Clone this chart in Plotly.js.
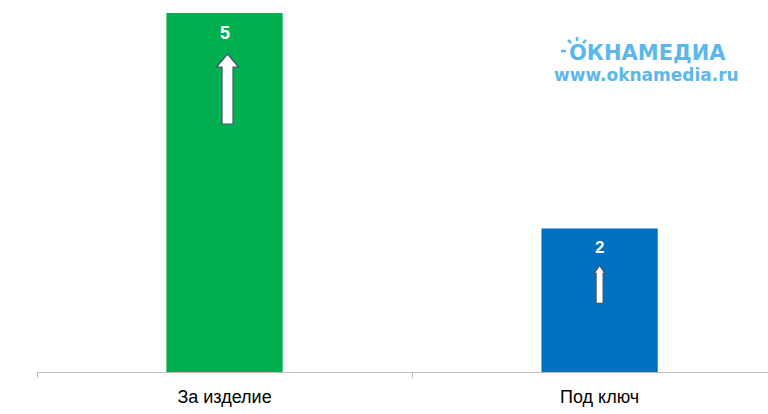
<!DOCTYPE html>
<html>
<head>
<meta charset="utf-8">
<script src="https://cdn.plot.ly/plotly-3.0.1.min.js"></script>
<style>
  html, body { margin: 0; padding: 0; background: #ffffff; }
  #chart { width: 768px; height: 414px; }
</style>
</head>
<body>
<div id="chart"></div>
<script>
// Categories and values
const categories = ["За изделие", "Под ключ"];
const values = [5, 2];
const barColors = ["#00B050", "#0070C0"];

const FONT = "Arial, 'Liberation Sans', sans-serif";
const LOGO_FONT = "'DejaVu Sans', Verdana, sans-serif";
const LOGO_COLOR = "#5CB8EB";

// Plot area in pixels (used to place the logo decorations)
const M = { l: 37, r: 0, t: 13, b: 42 };
const W = 768, H = 414;
const px2x = p => (p - M.l) / (W - M.l - M.r);
const px2y = p => (H - M.b - p) / (H - M.t - M.b);

// Up-arrow outline in pixels relative to the bar top (y positive upward)
function arrowPath(dx, tipOff, headOff, bottomOff, headHalf, shaftHalf) {
  const l = dx - shaftHalf, r = dx + shaftHalf;
  return "M " + dx + " " + (-tipOff) +
         " L " + (dx + headHalf) + " " + (-headOff) +
         " L " + r + " " + (-headOff) +
         " L " + r + " " + (-bottomOff) +
         " L " + l + " " + (-bottomOff) +
         " L " + l + " " + (-headOff) +
         " L " + (dx - headHalf) + " " + (-headOff) + " Z";
}
const arrowGeom = [
  { dx: 3, tip: 41, head: 54, bottom: 111, headHalf: 11, shaftHalf: 5.5 },
  { dx: 0, tip: 37, head: 45, bottom: 75, headHalf: 5.5, shaftHalf: 3.5 }
];
// Value label size and offset below the bar top
const labelSize = [18, 17];
const labelShift = [-20, -19];

const trace = {
  type: "bar",
  x: categories,
  y: values,
  width: 0.31,
  marker: { color: barColors, line: { width: 0 } },
  hoverinfo: "skip"
};

const shapes = categories.map((c, i) => {
  const g = arrowGeom[i];
  return {
    type: "path",
    xref: "x", yref: "y",
    xsizemode: "pixel", ysizemode: "pixel",
    xanchor: i, yanchor: values[i],
    path: arrowPath(g.dx, g.tip, g.head, g.bottom, g.headHalf, g.shaftHalf),
    fillcolor: "#ffffff",
    line: { color: "#44546A", width: 1.2 },
    layer: "above"
  };
});

// Sun rays around the first letter of the logo
const rays = [
  [561, 51, 566, 51],
  [577, 37, 577, 41],
  [568, 40, 571, 43],
  [586, 40, 583, 43]
];
rays.forEach(r => shapes.push({
  type: "line", xref: "paper", yref: "paper",
  x0: px2x(r[0]), y0: px2y(r[1]), x1: px2x(r[2]), y1: px2y(r[3]),
  line: { color: LOGO_COLOR, width: 2.5 }
}));

const annotations = categories.map((c, i) => ({
  x: c, y: values[i], xref: "x", yref: "y",
  text: "<b>" + values[i] + "</b>",
  showarrow: false,
  yanchor: "middle",
  yshift: labelShift[i],
  font: { family: FONT, size: labelSize[i], color: "#ffffff" }
}));

// Site logo, top right
annotations.push({
  xref: "paper", yref: "paper", x: px2x(567), y: px2y(53),
  xanchor: "left", yanchor: "middle",
  text: "<b>ОКНАМЕДИА</b>", showarrow: false,
  font: { family: LOGO_FONT, size: 21, color: LOGO_COLOR }
});
annotations.push({
  xref: "paper", yref: "paper", x: px2x(646), y: px2y(75),
  xanchor: "center", yanchor: "middle",
  text: "<b>www.oknamedia.ru</b>", showarrow: false,
  font: { family: LOGO_FONT, size: 17, color: LOGO_COLOR }
});

const layout = {
  width: W, height: H,
  margin: { l: M.l, r: M.r, t: M.t, b: M.b, pad: 0 },
  paper_bgcolor: "#ffffff",
  plot_bgcolor: "#ffffff",
  showlegend: false,
  font: { family: FONT, size: 18, color: "#000000" },
  xaxis: {
    type: "category",
    range: [-0.5, 1.449],
    showline: true, linecolor: "#BFBFBF", linewidth: 1,
    ticks: "outside", tickson: "boundaries", ticklen: 5, tickcolor: "#BFBFBF",
    ticklabelstandoff: 8,
    showgrid: false, zeroline: false,
    tickfont: { family: FONT, size: 18, color: "#000000" }
  },
  yaxis: {
    range: [0, 5],
    visible: false,
    showgrid: false, zeroline: false
  },
  shapes: shapes,
  annotations: annotations
};

Plotly.newPlot("chart", [trace], layout, { displayModeBar: false, staticPlot: true });
</script>
</body>
</html>
